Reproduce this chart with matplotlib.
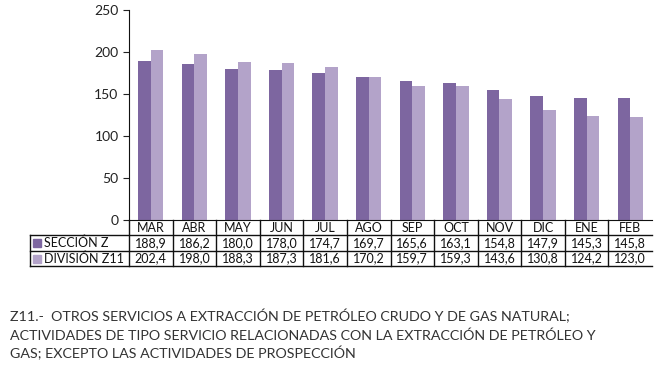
import numpy as np
import matplotlib.pyplot as plt
from matplotlib.lines import Line2D
from matplotlib.patches import Rectangle

plt.rcParams['font.family'] = ['Lato', 'DejaVu Sans']

# data
months = ['MAR', 'ABR', 'MAY', 'JUN', 'JUL', 'AGO', 'SEP', 'OCT', 'NOV', 'DIC', 'ENE', 'FEB']
seccion_z = [188.9, 186.2, 180.0, 178.0, 174.7, 169.7, 165.6, 163.1, 154.8, 147.9, 145.3, 145.8]
division_z11 = [202.4, 198.0, 188.3, 187.3, 181.6, 170.2, 159.7, 159.3, 143.6, 130.8, 124.2, 123.0]
series_names = ['SECCIÓN Z', 'DIVISIÓN Z11']

dark = '#7d66a0'
light = '#b3a3c9'

W, H = 656, 369
fig = plt.figure(figsize=(W / 100, H / 100), dpi=100)
ax = fig.add_axes([129 / W, (H - 220) / H, 523 / W, 210 / H])

x = np.arange(len(months))
bw = 0.29
ax.bar(x - bw / 2, seccion_z, bw, color=dark)
ax.bar(x + bw / 2, division_z11, bw, color=light)

ax.set_xlim(-0.5, len(months) - 0.5)
ax.set_ylim(0, 250)
ax.set_yticks([0, 50, 100, 150, 200, 250])
ax.tick_params(axis='y', labelsize=10, length=4, colors='#222222')
ax.set_xticks([])
for s in ['top', 'right']:
    ax.spines[s].set_visible(False)
ax.spines['left'].set_color('#111111')
ax.spines['bottom'].set_color('#111111')

# data table below the axes (axes coordinates)
def ypix(p):
    return (220 - p) / 210.0

ncol = len(months)
cw = 1.0 / ncol
left_lbl = (30 - 129) / 523.0
rows_y = [ypix(220), ypix(235), ypix(251), ypix(266)]
lk = dict(color='#111111', lw=1.0, transform=ax.transAxes, clip_on=False)

# horizontal lines
for yy in rows_y[1:]:
    ax.add_line(Line2D([left_lbl, 1.0], [yy, yy], **lk))
# vertical lines
for i in range(ncol):
    ax.add_line(Line2D([i * cw, i * cw], [rows_y[0], rows_y[3]], **lk))
ax.add_line(Line2D([left_lbl, left_lbl], [rows_y[1], rows_y[3]], **lk))

tk = dict(transform=ax.transAxes, ha='center', va='center', fontsize=9, color='#111111')
for i, m in enumerate(months):
    cx = (i + 0.5) * cw
    ax.text(cx, (rows_y[0] + rows_y[1]) / 2, m, **tk)
    ax.text(cx, (rows_y[1] + rows_y[2]) / 2, f'{seccion_z[i]:.1f}'.replace('.', ','), **tk)
    ax.text(cx, (rows_y[2] + rows_y[3]) / 2, f'{division_z11[i]:.1f}'.replace('.', ','), **tk)

# row labels with legend keys
sq_w = 8 / 523.0
for r, (name, col) in enumerate(zip(series_names, [dark, light])):
    yc = (rows_y[r + 1] + rows_y[r + 2]) / 2
    sq_h = 8 / 210.0
    ax.add_patch(Rectangle((left_lbl + 3 / 523.0, yc - sq_h / 2), sq_w, sq_h,
                           color=col, transform=ax.transAxes, clip_on=False))
    ax.text(left_lbl + 14 / 523.0, yc, name, transform=ax.transAxes, ha='left',
            va='center', fontsize=9, color='#111111')

# caption
caption = ['Z11.-  OTROS SERVICIOS A EXTRACCIÓN DE PETRÓLEO CRUDO Y DE GAS NATURAL;',
           'ACTIVIDADES DE TIPO SERVICIO RELACIONADAS CON LA EXTRACCIÓN DE PETRÓLEO Y',
           'GAS; EXCEPTO LAS ACTIVIDADES DE PROSPECCIÓN']
for k, line in enumerate(caption):
    fig.text(10 / W, 1 - (321 + 18.5 * k) / H, line, fontsize=10.3, color='#333333',
             ha='left', va='baseline')

fig.savefig('out.png', dpi=100)
